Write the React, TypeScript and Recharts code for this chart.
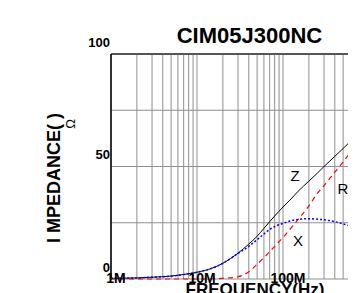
import React from 'react';
import { LineChart, Line, XAxis, YAxis, CartesianGrid, ReferenceLine } from 'recharts';

// frequency points in MHz
const freqMHz = [1, 2, 3, 5, 7, 10, 15, 20, 30, 40, 50, 60, 70, 80, 100, 120, 150, 200, 250, 300, 400, 500, 600, 700, 800, 1000];
const zValues = [0.3, 0.5, 0.8, 1.3, 2.0, 3.0, 4.8, 7.0, 11.5, 15.5, 19, 22.5, 25.5, 28, 32, 35, 39, 43.5, 47, 50, 54.5, 58, 61, 63.5, 66, 71];
const rValues = [0, 0, 0, 0, 0, 0, 0.1, 0.3, 1.0, 3.2, 6.5, 9.5, 12.2, 14.5, 18.5, 22, 26.5, 32.5, 38, 41.5, 47.5, 52, 56, 59.5, 62.5, 67];
const xValues = [0.3, 0.5, 0.8, 1.3, 2.0, 3.0, 4.8, 7.0, 11.4, 14.5, 17.5, 20, 22, 23.3, 24.7, 25.8, 26.5, 26.8, 26.6, 26.3, 25.5, 24.5, 23.5, 22.5, 21.5, 19.5];

const yTicks = [0, 25, 50, 75, 100];
const yLabelTicks = [0, 50, 100];
const decades = [1e6, 1e7, 1e8];
const decadeLabels = ['1M', '10M', '100M'];
const xTicks = [1e6, 1e7, 1e8].flatMap((d) => [1, 2, 3, 4, 5, 6, 7, 8, 9].map((m) => m * d)).concat([1e9]);

const data = freqMHz.map((f, i) => ({ f: f * 1e6, Z: zValues[i], R: rValues[i], X: xValues[i] }));

const FONT = 'Liberation Sans, Arial, sans-serif';

const XTick = (props: any) => {
  const { x, payload } = props;
  const idx = decades.indexOf(payload.value);
  if (idx < 0) return null;
  return (
    <text x={x + 5} y={270} textAnchor="middle" dominantBaseline="central" fontFamily={FONT} fontWeight="bold" fontSize={14} fill="#000">
      {decadeLabels[idx]}
    </text>
  );
};

const YTick = (props: any) => {
  const { y, payload } = props;
  if (!yLabelTicks.includes(payload.value)) return null;
  return (
    <text x={102} y={y - 12} textAnchor="end" dominantBaseline="central" fontFamily={FONT} fontWeight="bold" fontSize={13} fill="#000">
      {payload.value}
    </text>
  );
};

export default function App() {
  return (
    <div style={{ position: 'relative', width: 348, height: 285, overflow: 'hidden' }}>
      <LineChart width={400} height={285} data={data} margin={{ top: 46, right: 39, left: 83, bottom: 0 }}>
        <CartesianGrid stroke="#8f8f8f" strokeWidth={1} />
        <XAxis
          dataKey="f"
          type="number"
          scale="log"
          domain={[1e6, 1e9]}
          ticks={xTicks}
          allowDataOverflow
          height={14}
          axisLine={false}
          tickLine={false}
          tick={<XTick />}
          interval={0}
        />
        <YAxis
          type="number"
          domain={[0, 100]}
          ticks={yTicks}
          width={20}
          axisLine={false}
          tickLine={false}
          tick={<YTick />}
          interval={0}
        />
        <ReferenceLine y={100} stroke="#555" strokeWidth={2} />
        <ReferenceLine x={1e6} stroke="#000" strokeWidth={1.5} />
        <Line type="monotone" dataKey="Z" stroke="#000" strokeWidth={1} dot={false} isAnimationActive={false} />
        <Line type="monotone" dataKey="R" stroke="#ff0000" strokeWidth={1.2} strokeDasharray="5 4" dot={false} isAnimationActive={false} />
        <Line type="monotone" dataKey="X" stroke="#0000ff" strokeWidth={1.5} strokeDasharray="2 2" dot={false} isAnimationActive={false} />
      </LineChart>
      <svg width={348} height={285} style={{ position: 'absolute', left: 0, top: 0, pointerEvents: 'none' }}>
        <text x={241.5} y={35} textAnchor="middle" fontFamily={FONT} fontWeight="bold" fontSize={22} fill="#000">
          CIM05J300NC
        </text>
        <text
          x={45.5}
          y={170}
          transform="rotate(-90 45.5 170)"
          textAnchor="middle"
          dominantBaseline="central"
          fontFamily={FONT}
          fontWeight="bold"
          fontSize={18}
          fill="#000"
        >
          {'I MPEDANCE( )'}
        </text>
        <text x={62} y={116} transform="rotate(-90 62 116)" textAnchor="middle" dominantBaseline="central" fontFamily={FONT} fontSize={13} fill="#000">
          Ω
        </text>
        <text x={287} y={167} textAnchor="middle" dominantBaseline="central" fontFamily={FONT} fontSize={15} fill="#000">Z</text>
        <text x={335} y={180} textAnchor="middle" dominantBaseline="central" fontFamily={FONT} fontSize={15} fill="#000">R</text>
        <text x={290} y={232} textAnchor="middle" dominantBaseline="central" fontFamily={FONT} fontSize={15} fill="#000">X</text>
        <text x={247} y={287} textAnchor="middle" fontFamily={FONT} fontWeight="bold" fontSize={17} fill="#000">
          FREQUENCY(Hz)
        </text>
      </svg>
    </div>
  );
}
